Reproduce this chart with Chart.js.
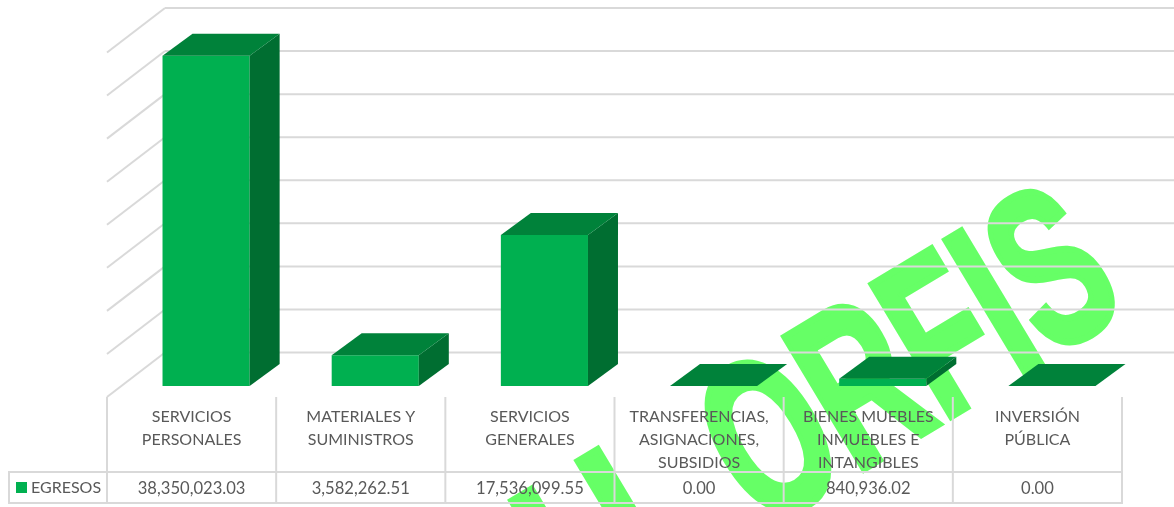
<!DOCTYPE html>
<html>
<head>
<meta charset="utf-8">
<script src="https://cdn.jsdelivr.net/npm/chart.js@4"></script>
<style>
body { margin: 0; background: #fff; }
canvas { display: block; }
</style>
</head>
<body>
<canvas id="chart" width="1174" height="507"></canvas>
<script>
var categories = [
    ['SERVICIOS', 'PERSONALES'],
    ['MATERIALES Y', 'SUMINISTROS'],
    ['SERVICIOS', 'GENERALES'],
    ['TRANSFERENCIAS,', 'ASIGNACIONES,', 'SUBSIDIOS'],
    ['BIENES MUEBLES', 'INMUEBLES E', 'INTANGIBLES'],
    ['INVERSIÓN', 'PÚBLICA']
];
var egresos = [38350023.03, 3582262.51, 17536099.55, 0, 840936.02, 0];
var seriesName = 'EGRESOS';

var gridColor = '#d9d9d9';
var textColor = '#595959';
var labelFont = '16px Lato';
var valueFont = '16.6px Lato';

// 3d depth of the bars and of the walls
var barDx = 30, barDy = 22;
var wallDx = 58, wallDy = 44.5;
var frontDx = 14.5, frontDy = 11;

function line(ctx, x1, y1, x2, y2) {
    ctx.beginPath();
    ctx.moveTo(x1, y1);
    ctx.lineTo(x2, y2);
    ctx.stroke();
}

function face(ctx, color, pts) {
    ctx.fillStyle = color;
    ctx.beginPath();
    ctx.moveTo(pts[0], pts[1]);
    for (var i = 2; i < pts.length; i += 2) ctx.lineTo(pts[i], pts[i + 1]);
    ctx.closePath();
    ctx.fill();
}

function drawWatermark(ctx) {
    ctx.save();
    ctx.fillStyle = '#66ff66';
    ctx.strokeStyle = '#66ff66';
    ctx.lineWidth = 7;
    ctx.lineJoin = 'miter';
    ctx.font = 'bold 224px "Liberation Sans"';
    ctx.textAlign = 'left';
    ctx.textBaseline = 'alphabetic';
    ctx.translate(761, 531);
    ctx.rotate(-31 * Math.PI / 180);
    ctx.scale(141 / 224, 1);
    ctx.fillText('ORFIS', 0, 0);
    ctx.strokeText('ORFIS', 0, 0);
    // the word before it, only the top of it is on the page
    ctx.scale(1.2, 1);
    ctx.fillText('U', -277, 0);
    ctx.strokeText('U', -277, 0);
    ctx.restore();
}

var chart3d = {
    id: 'chart3d',
    beforeDatasetsDraw: function (chart) {
        var ctx = chart.ctx;
        var x = chart.scales.x, y = chart.scales.y;
        var n = categories.length;
        var band = x.width / n;
        var left = x.left - frontDx;
        var right = left + band * n;
        var floorFront = y.getPixelForValue(0) + frontDy;

        ctx.save();
        ctx.fillStyle = '#fff';
        ctx.fillRect(0, 0, chart.width, chart.height);
        drawWatermark(ctx);

        // walls
        ctx.strokeStyle = gridColor;
        ctx.lineWidth = 2;
        y.ticks.forEach(function (t) {
            var py = y.getPixelForValue(t.value) + frontDy;
            line(ctx, left, py, left + wallDx, py - wallDy);
            line(ctx, left + wallDx, py - wallDy, chart.width, py - wallDy);
        });

        // data table
        var top = 472, bottom = 503, tableLeft = 9;
        line(ctx, tableLeft, top, right, top);
        line(ctx, tableLeft, bottom, right, bottom);
        line(ctx, tableLeft, top - 1, tableLeft, bottom + 1);
        for (var i = 0; i <= n; i++) {
            line(ctx, left + band * i, floorFront, left + band * i, bottom + 1);
        }

        ctx.fillStyle = textColor;
        ctx.textAlign = 'center';
        ctx.textBaseline = 'middle';
        categories.forEach(function (lines, i) {
            var cx = left + band * (i + 0.5);
            ctx.font = labelFont;
            lines.forEach(function (s, k) {
                ctx.fillText(s, cx, 417 + k * 23);
            });
            var label = egresos[i].toLocaleString('en-US', { minimumFractionDigits: 2, maximumFractionDigits: 2 });
            ctx.font = valueFont;
            ctx.fillText(label, cx, 489);
        });

        // legend key
        ctx.fillStyle = '#00b050';
        ctx.fillRect(16, 482, 11, 11);
        ctx.fillStyle = textColor;
        ctx.textAlign = 'left';
        ctx.font = labelFont;
        ctx.fillText(seriesName, 31, 488);
        ctx.restore();
    },
    afterDatasetsDraw: function (chart) {
        var ctx = chart.ctx;
        chart.getDatasetMeta(0).data.forEach(function (bar) {
            var l = bar.x - bar.width / 2, r = bar.x + bar.width / 2;
            var t = bar.y, b = bar.base;
            face(ctx, '#006e31', [r, t, r + barDx, t - barDy, r + barDx, b - barDy, r, b]);
            face(ctx, '#00823a', [l, t, l + barDx, t - barDy, r + barDx, t - barDy, r, t]);
        });
    }
};

new Chart(document.getElementById('chart').getContext('2d'), {
    type: 'bar',
    data: {
        labels: categories,
        datasets: [{
            label: seriesName,
            data: egresos,
            backgroundColor: '#00b050',
            categoryPercentage: 1,
            barPercentage: 0.515
        }]
    },
    options: {
        responsive: false,
        animation: false,
        layout: { padding: { left: 121.5, right: 37.5, top: 41.5, bottom: 121 } },
        scales: {
            x: { display: false },
            y: { display: false, min: 0, max: 40000000, ticks: { stepSize: 5000000 } }
        },
        plugins: { legend: { display: false }, tooltip: { enabled: false } }
    },
    plugins: [chart3d]
});
</script>
</body>
</html>
